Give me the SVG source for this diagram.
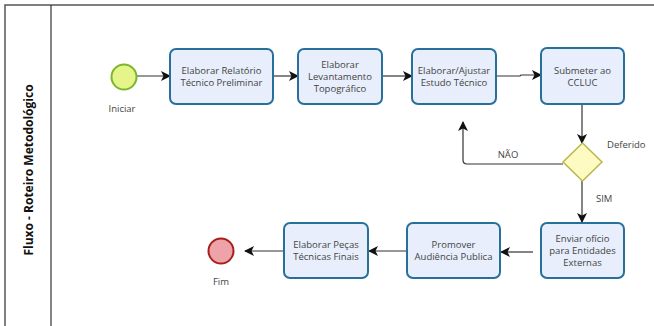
<svg xmlns="http://www.w3.org/2000/svg" width="654" height="326" viewBox="0 0 654 326">
<defs>
<marker id="ah" viewBox="0 0 10 10" refX="9" refY="5" markerWidth="10" markerHeight="10" markerUnits="userSpaceOnUse" orient="auto">
<path d="M0,0 L10,5 L0,10 L2.5,5 z" fill="#111"/>
</marker>
<style>
.box{fill:#e8eefb;stroke:#27709a;stroke-width:2}
.t{font-family:"Open Sans","Liberation Sans",sans-serif;font-size:9.5px;fill:#444;text-anchor:middle}
.c{fill:none;stroke:#333;stroke-width:1.2;marker-end:url(#ah)}
</style>
</defs>
<rect width="654" height="326" fill="#fff"/>
<g id="pool">
<path d="M5,326 V5 H654" fill="none" stroke="#555" stroke-width="1.5"/>
<line x1="51" y1="5" x2="51" y2="326" stroke="#333" stroke-width="1.2"/>
<text transform="translate(33,170) rotate(-90)" text-anchor="middle" font-family="'Open Sans','Liberation Sans',sans-serif" font-size="12" font-weight="bold" fill="#111">Fluxo - Roteiro Metodológico</text>
</g>
<g id="connectors">
<line class="c" x1="137" y1="76" x2="170" y2="76"/>
<line class="c" x1="273" y1="76" x2="298" y2="76"/>
<line class="c" x1="382" y1="76" x2="412" y2="76"/>
<polyline class="c" points="496,76 520,76 521,75 541,75"/>
<line class="c" x1="582" y1="104" x2="582" y2="143"/>
<path class="c" d="M563,164 H467 Q463,164 463,160 V122"/>
<line class="c" x1="582" y1="181" x2="582" y2="222"/>
<line class="c" x1="533" y1="252" x2="501" y2="252"/>
<line class="c" x1="407" y1="251" x2="369" y2="251"/>
<line class="c" x1="284" y1="251" x2="245" y2="251"/>
<text class="t" x="508" y="158">NÃO</text>
<text class="t" x="596" y="202" text-anchor="start" style="text-anchor:start">SIM</text>
</g>
<g id="start">
<circle cx="124" cy="77" r="12.5" fill="#e5f58a" stroke="#7bb62d" stroke-width="2"/>
<text class="t" x="122" y="112">Iniciar</text>
</g>
<g id="n1">
<rect class="box" x="170" y="49" width="103" height="55" rx="6"/>
<text class="t" x="221.5" y="74">Elaborar Relatório</text>
<text class="t" x="221.5" y="86">Técnico Preliminar</text>
</g>
<g id="n2">
<rect class="box" x="298" y="49" width="84" height="55" rx="6"/>
<text class="t" x="340" y="68">Elaborar</text>
<text class="t" x="340" y="80">Levantamento</text>
<text class="t" x="340" y="92">Topográfico</text>
</g>
<g id="n3">
<rect class="box" x="412" y="49" width="84" height="55" rx="6"/>
<text class="t" x="454" y="74">Elaborar/Ajustar</text>
<text class="t" x="454" y="86">Estudo Técnico</text>
</g>
<g id="n4">
<rect class="box" x="541" y="48" width="83" height="56" rx="6"/>
<text class="t" x="582.5" y="74">Submeter ao</text>
<text class="t" x="582.5" y="86">CCLUC</text>
</g>
<g id="gw">
<polygon points="582.5,143 602,162 582.5,181 563,162" fill="#fdfbc2" stroke="#b8b84a" stroke-width="1.5"/>
<text class="t" x="607" y="148" style="text-anchor:start">Deferido</text>
</g>
<g id="n5">
<rect class="box" x="541" y="223" width="83" height="55" rx="6"/>
<text class="t" x="582.5" y="242">Enviar ofício</text>
<text class="t" x="582.5" y="254">para Entidades</text>
<text class="t" x="582.5" y="266">Externas</text>
</g>
<g id="n6">
<rect class="box" x="407" y="223" width="93" height="55" rx="6"/>
<text class="t" x="453.5" y="248">Promover</text>
<text class="t" x="453.5" y="260">Audiência Publica</text>
</g>
<g id="n7">
<rect class="box" x="284" y="223" width="84" height="55" rx="6"/>
<text class="t" x="326" y="248">Elaborar Peças</text>
<text class="t" x="326" y="260">Técnicas Finais</text>
</g>
<g id="end">
<circle cx="221" cy="251" r="12.5" fill="#eda3a7" stroke="#a81d1d" stroke-width="2"/>
<text class="t" x="221" y="285">Fim</text>
</g>
</svg>
